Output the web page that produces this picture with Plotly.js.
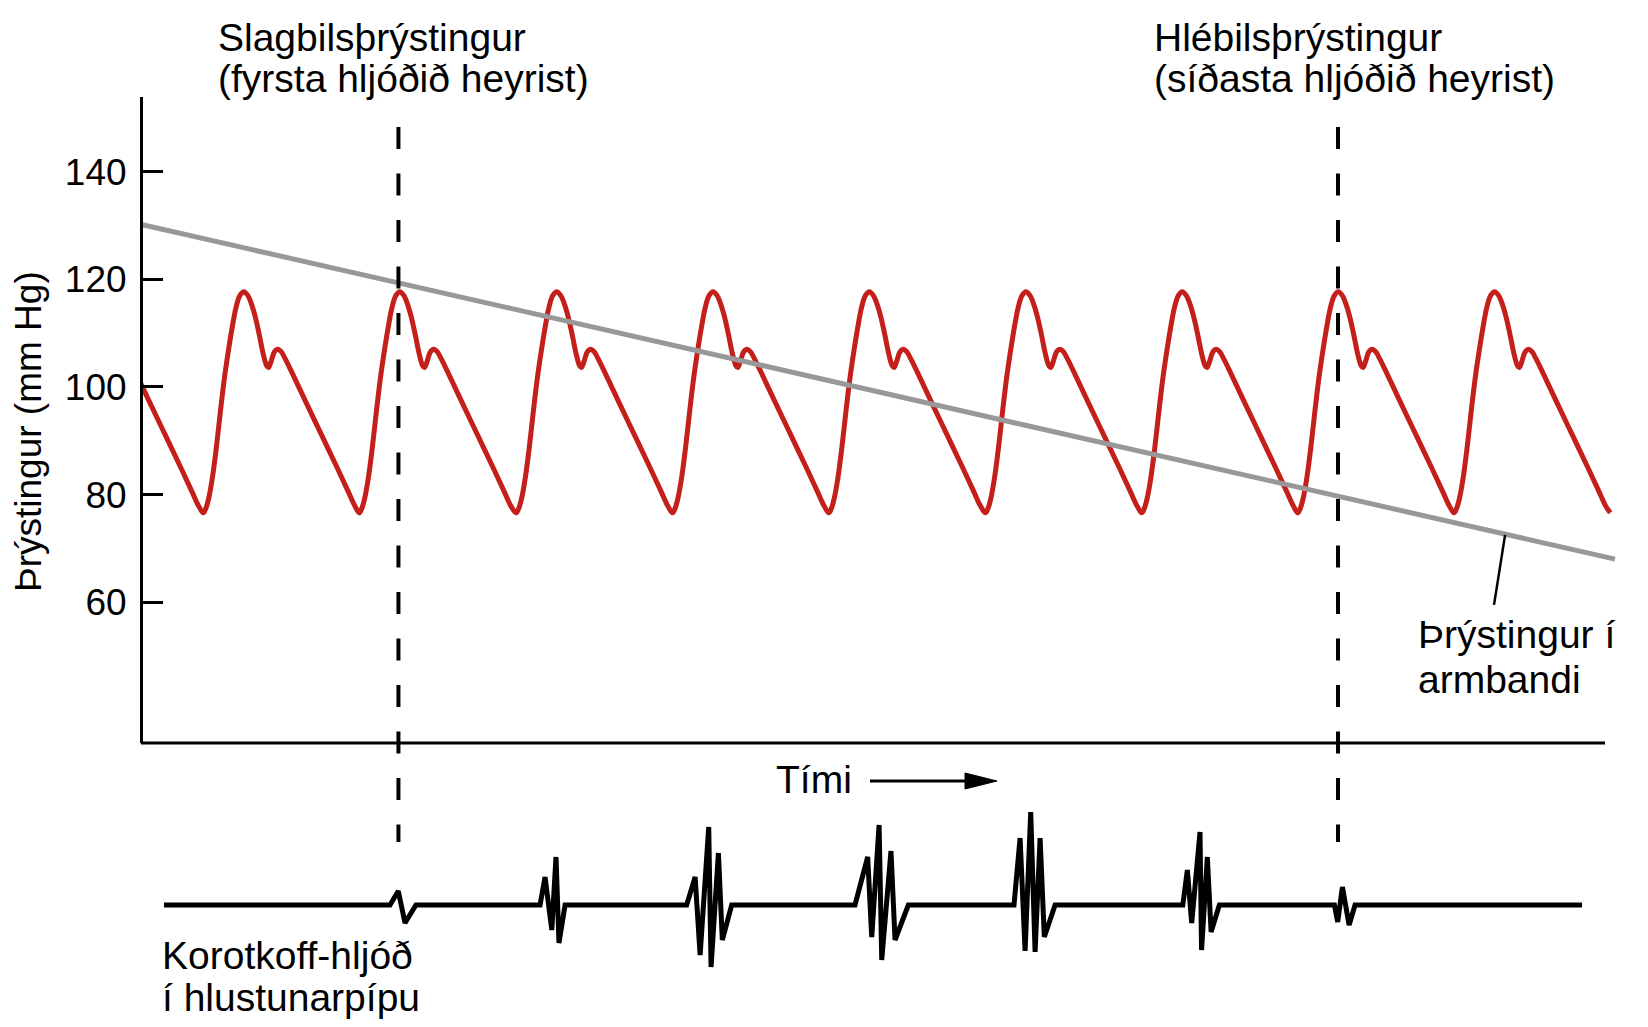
<!DOCTYPE html>
<html>
<head>
<meta charset="utf-8">
<script src="https://cdn.plot.ly/plotly-3.0.1.min.js"></script>
<style>body{margin:0;background:#fff;}</style>
</head>
<body>
<div id="plotZone" style="width:1648px;height:1027px;"></div>
<script>
// one pulse cycle: time from the peak (in beats) and pressure (mm Hg)
var beatPhase    = [-0.26, -0.245, -0.225, -0.2, -0.175, -0.149, -0.125, -0.1, -0.075, -0.05, -0.025, 0, 0.025, 0.05, 0.075, 0.1, 0.125, 0.145, 0.158, 0.175, 0.195, 0.217, 0.24, 0.265, 0.299, 0.4, 0.5, 0.6, 0.67, 0.71];
var beatPressure = [76.6, 77.3, 79.3, 83.4, 89.0, 95.7, 101.5, 106.5, 111.0, 114.8, 117.0, 117.7, 117.0, 115.3, 112.8, 109.5, 106.0, 104.0, 103.6, 104.8, 106.5, 107.0, 106.5, 105.2, 103.2, 97.0, 90.9, 84.8, 80.4, 77.9];
// time of each systolic peak (beats)
var peakTimes = [-0.342, 0.658, 1.656, 2.66, 3.66, 4.66, 5.662, 6.662, 7.66, 8.66];
var lastTrough = [0.74, 76.6];

// cuff pressure
var cuffTime = [0, 9.43];
var cuffPressure = [130.2, 68.0];

// Korotkoff sounds (arbitrary amplitude, 0 = quiet)
var soundTime = [0.147,
  1.593, 1.646, 1.689, 1.759,
  2.553, 2.585, 2.628, 2.655, 2.674, 2.713,
  3.491, 3.545, 3.577, 3.632, 3.647, 3.694, 3.719, 3.779,
  4.568, 4.649, 4.675, 4.722, 4.739, 4.798, 4.824, 4.909,
  5.585, 5.624, 5.656, 5.692, 5.720, 5.752, 5.779, 5.848,
  6.665, 6.694, 6.722, 6.775, 6.785, 6.822, 6.846, 6.899,
  7.635, 7.656, 7.686, 7.729, 7.767,
  9.219];
var soundAmp = [0,
  0, 14, -18, 0,
  0, 28, -25, 48, -38, 0,
  0, 28, -50, 78, -62, 52, -35, 0,
  0, 48, -32, 80, -55, 54, -35, 0,
  0, 67, -46, 93, -47, 67, -32, 0,
  0, 35, -18, 73, -45, 48, -27, 0,
  0, -17, 18, -20, 0,
  0];

// first and last sound heard
var markerTimes = [1.647, 7.658];
var yTicks = [60, 80, 100, 120, 140];

var W = 1648, H = 1027;
function fx(p){ return p / W; }
function fy(p){ return 1 - p / H; }

var pulseT = [], pulseP = [];
for (var i = 0; i < peakTimes.length; i++) {
    for (var j = 0; j < beatPhase.length; j++) {
        pulseT.push(peakTimes[i] + beatPhase[j]);
        pulseP.push(beatPressure[j]);
    }
}
pulseT.push(peakTimes[peakTimes.length - 1] + lastTrough[0]);
pulseP.push(lastTrough[1]);

var fontFam = 'Liberation Sans, Arial, Helvetica, sans-serif';
var fs = 39;

var tracePulse = {
    x: pulseT, y: pulseP, xaxis: 'x', yaxis: 'y',
    type: 'scatter', mode: 'lines',
    line: {color: '#c41f1b', width: 5, shape: 'spline', smoothing: 1},
    hoverinfo: 'skip'
};
var traceCuff = {
    x: cuffTime, y: cuffPressure, xaxis: 'x', yaxis: 'y',
    type: 'scatter', mode: 'lines',
    line: {color: '#989898', width: 5},
    hoverinfo: 'skip'
};
var traceSound = {
    x: soundTime, y: soundAmp, xaxis: 'x', yaxis: 'y2',
    type: 'scatter', mode: 'lines',
    line: {color: '#000', width: 5},
    hoverinfo: 'skip'
};

var shapes = [
    // x axis line
    {type: 'line', xref: 'paper', yref: 'paper', x0: fx(141), x1: fx(1605), y0: fy(743), y1: fy(743),
     line: {color: '#000', width: 3}},
    // cuff label pointer
    {type: 'line', xref: 'x', yref: 'y', x0: 8.727, y0: 72.5, x1: 8.656, y1: 59.5,
     line: {color: '#000', width: 2.5}},
    // time arrow
    {type: 'line', xref: 'paper', yref: 'paper', x0: fx(870), x1: fx(970), y0: fy(781), y1: fy(781),
     line: {color: '#000', width: 3}},
    {type: 'path', xref: 'paper', yref: 'paper',
     path: 'M' + fx(965) + ',' + fy(773) + ' L' + fx(997) + ',' + fy(781) + ' L' + fx(965) + ',' + fy(789) + ' Z',
     fillcolor: '#000', line: {color: '#000', width: 1}}
];
markerTimes.forEach(function(t){
    shapes.push({type: 'line', xref: 'x', yref: 'paper', x0: t, x1: t, y0: fy(127), y1: fy(842),
                 line: {color: '#000', width: 4, dash: '22px,24.5px'}});
});

function label(text, x, y){
    return {text: text, xref: 'paper', yref: 'paper', x: fx(x), y: fy(y),
            xanchor: 'left', yanchor: 'middle', showarrow: false,
            font: {family: fontFam, size: fs, color: '#000'}};
}
var annotations = [
    label('Slagbilsþrýstingur', 216, 37.5),
    label('(fyrsta hljóðið heyrist)', 216, 79),
    label('Hlébilsþrýstingur', 1152, 37.5),
    label('(síðasta hljóðið heyrist)', 1152, 79),
    label('Þrýstingur í', 1416, 634),
    label('armbandi', 1416, 679),
    label('Tími', 774, 779),
    label('Korotkoff-hljóð', 160, 955),
    label('í hlustunarpípu', 160, 997),
    {text: 'Þrýstingur (mm Hg)', xref: 'paper', yref: 'paper', x: fx(28.5), y: fy(431.5),
     xanchor: 'center', yanchor: 'middle', textangle: -90, showarrow: false,
     font: {family: fontFam, size: 37, color: '#000'}}
];

var layout = {
    width: W, height: H,
    margin: {l: 0, r: 0, t: 0, b: 0},
    paper_bgcolor: '#fff', plot_bgcolor: 'rgba(0,0,0,0)',
    showlegend: false,
    font: {family: fontFam, size: fs, color: '#000'},
    xaxis: {domain: [fx(143), fx(1620)], range: [0.0128, 9.462], anchor: 'y',
            visible: false, showgrid: false, zeroline: false, fixedrange: true},
    yaxis: {domain: [fy(743), fy(97)], range: [33.83, 153.88], anchor: 'x',
            showline: true, linecolor: '#000', linewidth: 3,
            ticks: 'inside', ticklen: 20, tickwidth: 3, tickcolor: '#000',
            tickvals: yTicks, ticktext: yTicks.map(String), ticklabelstandoff: 6,
            tickfont: {family: fontFam, size: 37, color: '#000'},
            showgrid: false, zeroline: false, fixedrange: true},
    yaxis2: {domain: [fy(985), fy(770)], range: [-80, 135], anchor: 'x',
             visible: false, showgrid: false, zeroline: false, fixedrange: true},
    shapes: shapes,
    annotations: annotations
};

Plotly.newPlot('plotZone', [tracePulse, traceCuff, traceSound], layout, {staticPlot: true, displayModeBar: false});
</script>
</body>
</html>
